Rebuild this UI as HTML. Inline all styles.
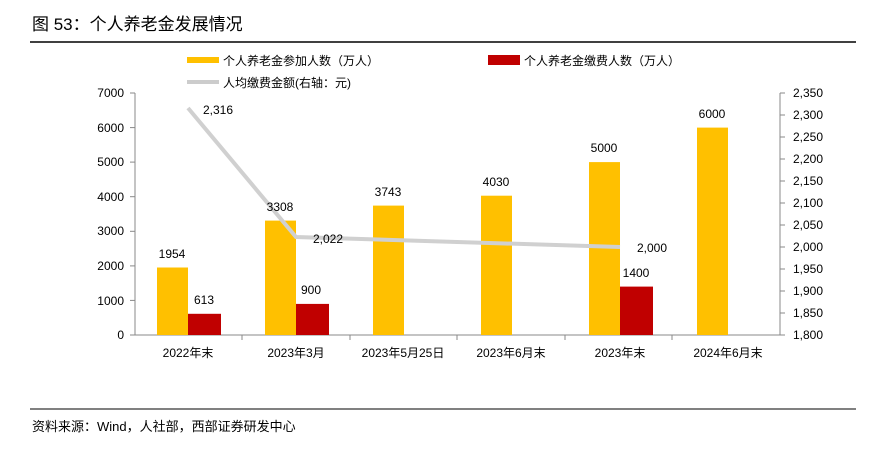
<!DOCTYPE html>
<html><head><meta charset="utf-8"><style>
html,body{margin:0;padding:0;background:#fff;width:884px;height:449px;overflow:hidden}
text{font-family:"Liberation Sans","Noto Sans CJK SC",sans-serif;fill:#000}
</style></head><body>
<svg width="884" height="449" viewBox="0 0 884 449">
<text x="32" y="30" font-size="17">图 53：个人养老金发展情况</text>
<line x1="30" y1="42" x2="856" y2="42" stroke="#000" stroke-width="1.5"/>
<line x1="30" y1="409" x2="856" y2="409" stroke="#000" stroke-width="1"/>
<text x="32" y="431" font-size="13">资料来源：Wind，人社部，西部证券研发中心</text>
<!-- legend -->
<rect x="187" y="57" width="32" height="6" fill="#FFC000"/>
<text x="223" y="65" font-size="12">个人养老金参加人数（万人）</text>
<rect x="488" y="55" width="32" height="10" fill="#C00000"/>
<text x="524" y="65" font-size="12">个人养老金缴费人数（万人）</text>
<rect x="187" y="80" width="32" height="4" fill="#ccc"/>
<text x="223" y="87" font-size="12">人均缴费金额(右轴：元)</text>
<!-- axes -->
<g stroke="#888" stroke-width="1">
<line x1="135" y1="93" x2="135" y2="335"/>
<line x1="780" y1="93" x2="780" y2="335"/>
<line x1="135" y1="335" x2="780" y2="335"/>
<line x1="130" y1="93" x2="135" y2="93"/><line x1="130" y1="127.6" x2="135" y2="127.6"/><line x1="130" y1="162.1" x2="135" y2="162.1"/><line x1="130" y1="196.7" x2="135" y2="196.7"/><line x1="130" y1="231.3" x2="135" y2="231.3"/><line x1="130" y1="265.9" x2="135" y2="265.9"/><line x1="130" y1="300.4" x2="135" y2="300.4"/><line x1="130" y1="335" x2="135" y2="335"/>
<line x1="780" y1="93" x2="785" y2="93"/><line x1="780" y1="115" x2="785" y2="115"/><line x1="780" y1="137" x2="785" y2="137"/><line x1="780" y1="159" x2="785" y2="159"/><line x1="780" y1="181" x2="785" y2="181"/><line x1="780" y1="203" x2="785" y2="203"/><line x1="780" y1="225" x2="785" y2="225"/><line x1="780" y1="247" x2="785" y2="247"/><line x1="780" y1="269" x2="785" y2="269"/><line x1="780" y1="291" x2="785" y2="291"/><line x1="780" y1="313" x2="785" y2="313"/><line x1="780" y1="335" x2="785" y2="335"/>
<line x1="242" y1="335" x2="242" y2="340"/><line x1="350" y1="335" x2="350" y2="340"/><line x1="457" y1="335" x2="457" y2="340"/><line x1="565" y1="335" x2="565" y2="340"/><line x1="672" y1="335" x2="672" y2="340"/>
</g>
<g font-size="12" text-anchor="end">
<text x="124" y="97">7000</text><text x="124" y="132">6000</text><text x="124" y="166">5000</text><text x="124" y="201">4000</text><text x="124" y="235">3000</text><text x="124" y="270">2000</text><text x="124" y="305">1000</text><text x="124" y="339">0</text>
</g>
<g font-size="12">
<text x="793" y="97">2,350</text><text x="793" y="119">2,300</text><text x="793" y="141">2,250</text><text x="793" y="163">2,200</text><text x="793" y="185">2,150</text><text x="793" y="207">2,100</text><text x="793" y="229">2,050</text><text x="793" y="251">2,000</text><text x="793" y="273">1,950</text><text x="793" y="295">1,900</text><text x="793" y="317">1,850</text><text x="793" y="339">1,800</text>
</g>
<!-- bars -->
<g fill="#FFC000">
<rect x="157" y="267.5" width="31" height="67.5"/>
<rect x="265" y="220.6" width="31" height="114.4"/>
<rect x="373" y="205.6" width="31" height="129.4"/>
<rect x="481" y="195.7" width="31" height="139.3"/>
<rect x="589" y="162.1" width="31" height="172.9"/>
<rect x="697" y="127.6" width="31" height="207.4"/>
</g>
<g fill="#C00000">
<rect x="188" y="313.8" width="33" height="21.2"/>
<rect x="296" y="303.9" width="33" height="31.1"/>
<rect x="620" y="286.6" width="33" height="48.4"/>
</g>
<polyline points="188,108 296,237 620,247" fill="none" stroke="#d0d0d0" stroke-width="4"/>
<g font-size="12" text-anchor="middle">
<text x="172" y="258">1954</text><text x="204" y="304">613</text>
<text x="280" y="211">3308</text><text x="311" y="294">900</text>
<text x="388" y="196">3743</text><text x="496" y="186">4030</text>
<text x="604" y="152">5000</text><text x="636" y="277">1400</text>
<text x="712" y="118">6000</text>
<text x="218" y="114">2,316</text><text x="328" y="243">2,022</text><text x="652" y="252">2,000</text>
<text x="188" y="357">2022年末</text><text x="296" y="357">2023年3月</text><text x="403" y="357">2023年5月25日</text><text x="511" y="357">2023年6月末</text><text x="620" y="357">2023年末</text><text x="728" y="357">2024年6月末</text>
</g>
</svg>
</body></html>
